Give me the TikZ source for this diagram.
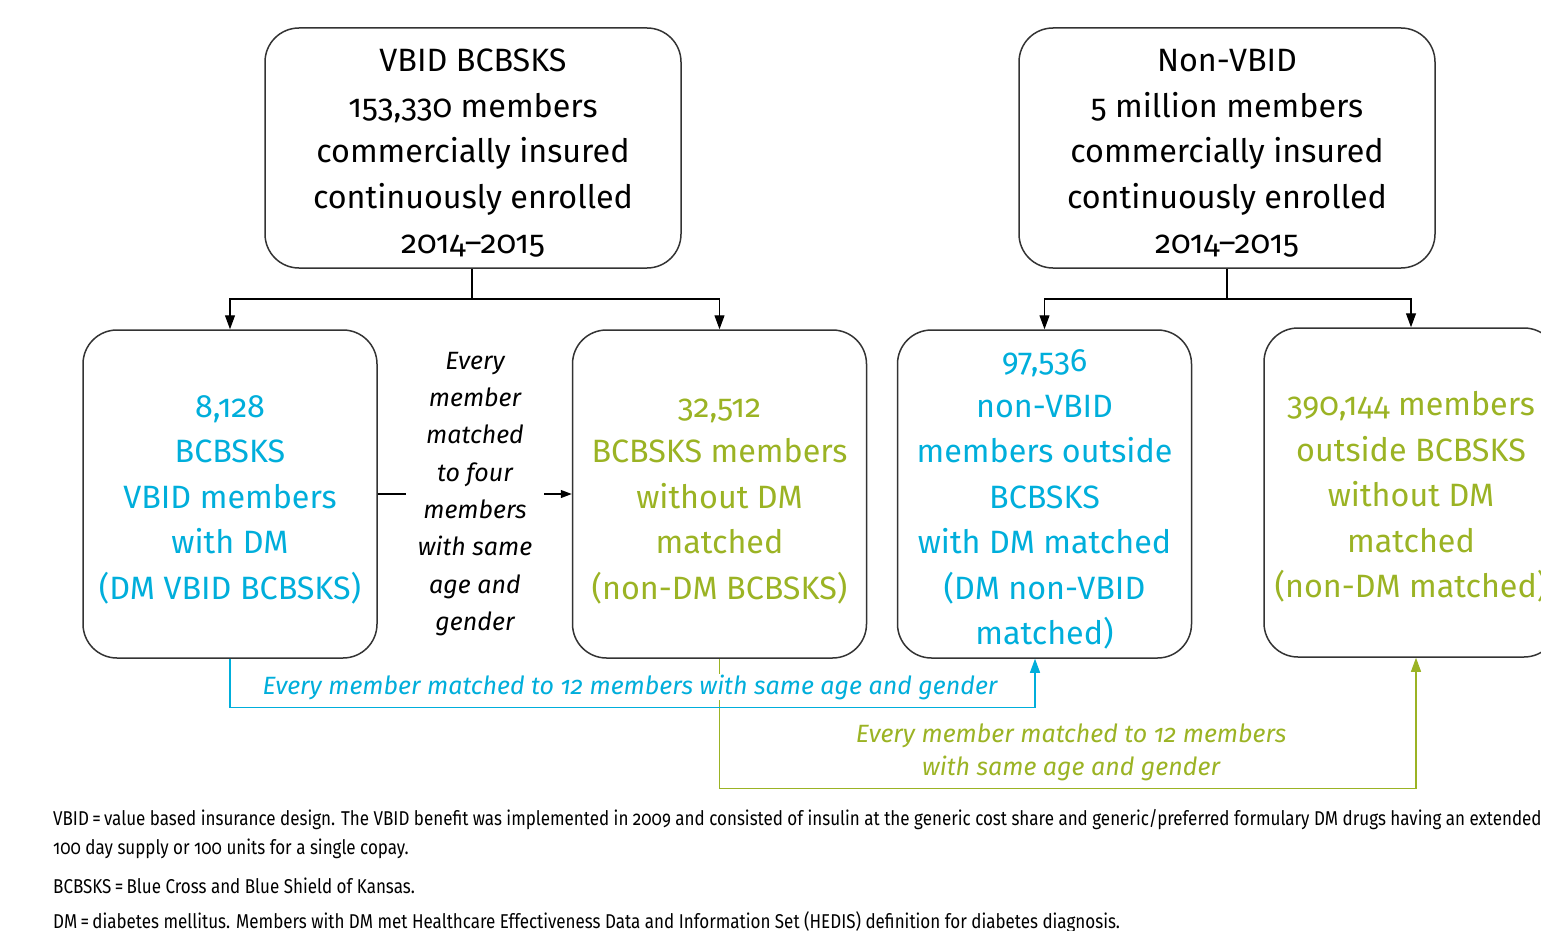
\documentclass[tikz,border=0pt]{standalone}
\usepackage{fontspec}
\setmainfont{Fira Sans}[Numbers=OldStyle]
\newfontfamily\notefont{Fira Sans}[Numbers=OldStyle,FakeStretch=0.85]
\usetikzlibrary{arrows.meta}
\definecolor{vbidblue}{HTML}{00AEDB}
\definecolor{nondmgreen}{HTML}{9BB324}
\definecolor{boxline}{HTML}{333333}
\newcommand{\firstline}{\rule{0pt}{33pt}}
\tikzset{
  group/.style={draw=boxline, line width=1.5pt, rounded corners=34pt, align=center,
    inner sep=0pt, minimum width=294pt, minimum height=328pt,
    font=\fontsize{32.3}{45.5}\selectfont},
  link/.style={line width=1.2pt, -{Triangle[length=14pt,width=10pt]}},
  matchnote/.style={font=\itshape\fontsize{25}{37.3}\selectfont, align=center},
  footnote/.style={anchor=west, inner sep=0pt, font=\notefont\fontsize{20}{24}\selectfont},
}
\begin{document}
\begin{tikzpicture}[x=1pt,y=-1pt]
  \useasboundingbox (0,0) rectangle (1541,931);
  \clip (0,0) rectangle (1541,931);

  % populations
  \node[group, minimum width=416pt, minimum height=240pt] (vbid) at (473,148)
    {\firstline VBID BCBSKS\\153,330 members\\commercially insured\\continuously enrolled\\2014--2015};
  \node[group, minimum width=416pt, minimum height=240pt] (nonvbid) at (1227,148)
    {\firstline Non-VBID\\5 million members\\commercially insured\\continuously enrolled\\2014--2015};

  % matched groups
  \node[group, text=vbidblue] (dmvbid) at (230,494)
    {\firstline 8,128\\BCBSKS\\VBID members\\with DM\\(DM VBID BCBSKS)};
  \node[group, text=nondmgreen] (nondm) at (719.5,494)
    {\firstline 32,512\\BCBSKS members\\without DM\\matched\\(non-DM BCBSKS)};
  \node[group, text=vbidblue] (dmnon) at (1044.5,494)
    {\firstline 97,536\\non-VBID\\members outside\\BCBSKS\\with DM matched\\(DM non-VBID\\matched)};
  \node[group, text=nondmgreen, minimum height=329pt] (nondmm) at (1411,492.5)
    {\firstline 390,144 members\\outside BCBSKS\\without DM\\matched\\(non-DM matched)};

  % splits
  \coordinate (vsplit) at (472,299);
  \coordinate (nsplit) at (1227,299);
  \draw[line width=1.2pt] (vbid.south -| vsplit) -- (vsplit);
  \draw[link] (vsplit) -| (dmvbid.north);
  \draw[link] (vsplit) -| (nondm.north);
  \draw[line width=1.2pt] (nonvbid.south) -- (nsplit);
  \draw[link] (nsplit) -| (dmnon.north);
  \draw[link] (nsplit) -| (nondmm.north);

  % 1:4 matching
  \node[matchnote, inner sep=12pt] (four) at (475,494)
    {Every\\member\\matched\\to four\\members\\with same\\age and\\gender};
  \draw[line width=1.2pt] (dmvbid) -- (four);
  \draw[line width=1.2pt, -{Triangle[length=11pt,width=8pt]}] (four) -- (nondm);

  % 1:12 matching
  \draw[link, nondmgreen] (nondm.south) -- ++(0,130) -| ([xshift=5pt]nondmm.south);
  \node[matchnote, text=nondmgreen, font=\itshape\fontsize{25}{33}\selectfont] (greennote) at (1071,752.5)
    {Every member matched to 12 members\\with same age and gender};
  \draw[link, vbidblue] (dmvbid.south) -- ++(0,49) -| ([xshift=-9.5pt]dmnon.south);
  \node[matchnote, text=vbidblue, fill=white, inner xsep=3pt, inner ysep=1pt] (bluenote) at (630,687)
    {Every member matched to 12 members with same age and gender};

  % notes
  \node[footnote] (note1) at (53,820) {VBID\,=\,value based insurance design. The VBID benefit was implemented in 2009 and consisted of insulin at the generic cost share and generic/preferred formulary DM drugs having an extended};
  \node[footnote] (note2) at (53,849) {100 day supply or 100 units for a single copay.};
  \node[footnote] (note3) at (53,886) {BCBSKS\,=\,Blue Cross and Blue Shield of Kansas.};
  \node[footnote] (note4) at (53,922) {DM\,=\,diabetes mellitus. Members with DM met Healthcare Effectiveness Data and Information Set (HEDIS) definition for diabetes diagnosis.};
\end{tikzpicture}
\end{document}
